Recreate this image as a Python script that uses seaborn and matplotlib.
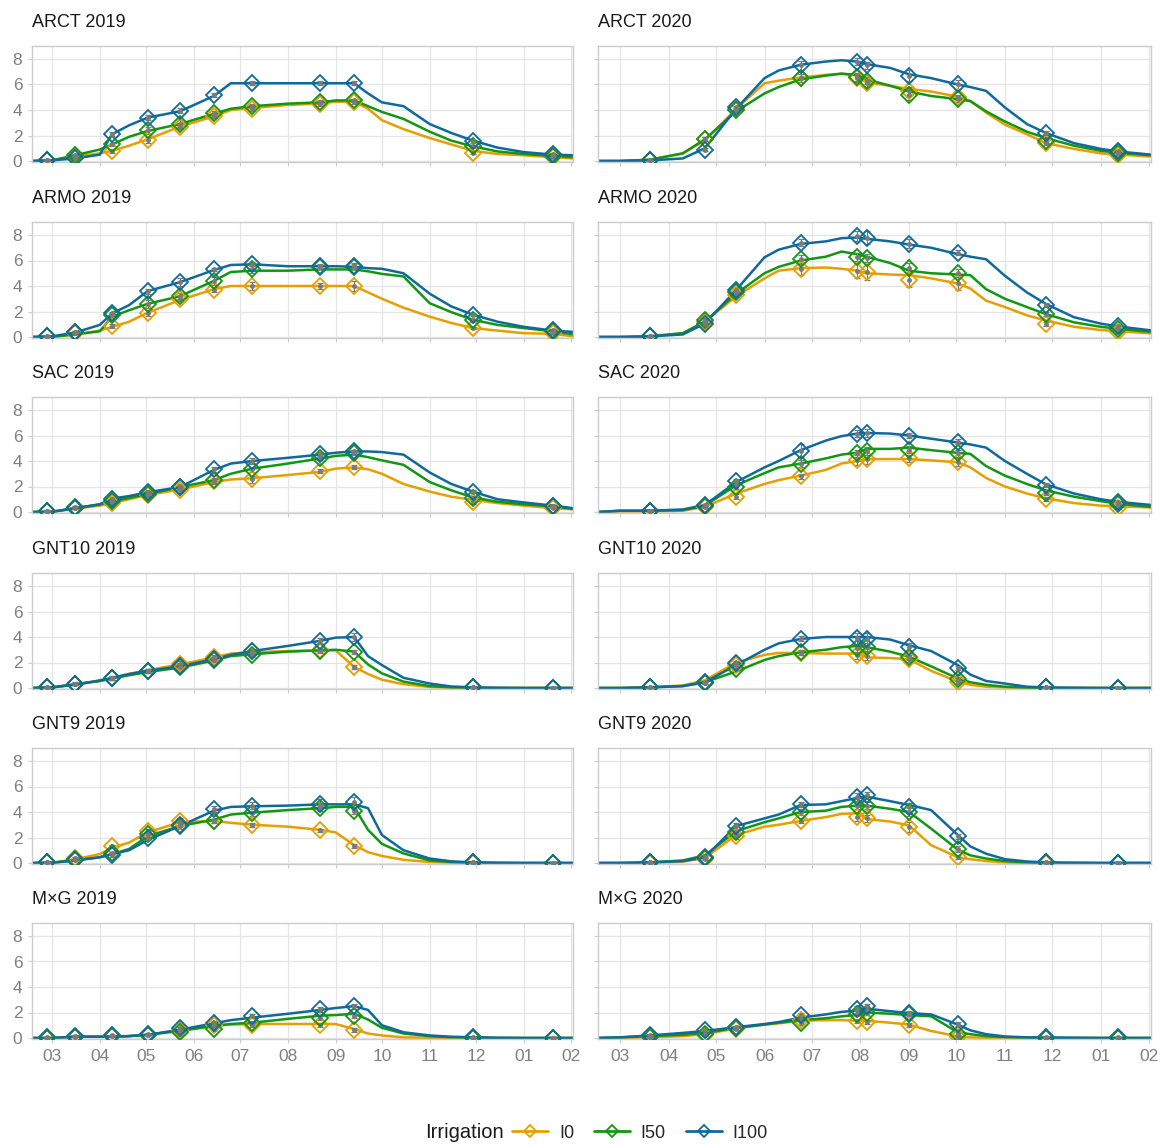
import pandas as pd
import matplotlib
matplotlib.use('Agg')
import matplotlib.pyplot as plt
import matplotlib.dates as mdates
from matplotlib.lines import Line2D
import seaborn as sns

# ---- facets, treatments ----
SITES = ['ARCT', 'ARMO', 'SAC', 'GNT10', 'GNT9', 'M×G']
YEARS = [2019, 2020]
TREATMENTS = ['I0', 'I50', 'I100']
COLORS = {'I0': '#E69F00', 'I50': '#139613', 'I100': '#0F6A9B'}

# ---- dates of the simulated curves ----
LINE_DATES_2019 = ['2019-02-16', '2019-03-01', '2019-03-16', '2019-04-01', '2019-04-09',
                   '2019-04-20', '2019-05-02', '2019-05-23', '2019-06-14', '2019-06-25',
                   '2019-07-09', '2019-08-01', '2019-08-22', '2019-09-01', '2019-09-13',
                   '2019-09-22', '2019-10-01', '2019-10-15', '2019-11-01', '2019-11-15',
                   '2019-11-29', '2019-12-15', '2020-01-01', '2020-01-20', '2020-02-02']
LINE_DATES_2020 = ['2020-02-16', '2020-03-01', '2020-03-20', '2020-04-10', '2020-04-24',
                   '2020-05-14', '2020-06-01', '2020-06-10', '2020-06-24', '2020-07-10',
                   '2020-07-20', '2020-07-30', '2020-08-05', '2020-08-20', '2020-09-01',
                   '2020-09-15', '2020-10-02', '2020-10-10', '2020-10-20', '2020-11-01',
                   '2020-11-15', '2020-11-27', '2020-12-15', '2021-01-01', '2021-01-12',
                   '2021-02-02']

# ---- dates of the field observations ----
OBS_DATES_2019 = ['2019-02-26', '2019-03-16', '2019-04-09', '2019-05-02', '2019-05-23',
                  '2019-06-14', '2019-07-09', '2019-08-22', '2019-09-13', '2019-11-29',
                  '2020-01-20']
OBS_DATES_2020 = ['2020-03-20', '2020-04-24', '2020-05-14', '2020-06-24', '2020-07-30',
                  '2020-08-05', '2020-09-01', '2020-10-02', '2020-11-27', '2021-01-12']

# ---- simulated curves ----
ARCT_2019_I0 = [0, 0.05, 0.35, 0.6, 0.8, 1.2, 1.7, 2.7, 3.5, 4.0, 4.15, 4.4, 4.5, 4.65, 4.65, 4.1, 3.2, 2.5, 1.8, 1.3, 0.8, 0.55, 0.45, 0.3, 0.2]
ARCT_2019_I50 = [0, 0.05, 0.45, 0.9, 1.3, 1.9, 2.35, 2.9, 3.7, 4.1, 4.3, 4.5, 4.6, 4.75, 4.75, 4.3, 3.85, 3.3, 2.3, 1.6, 1.15, 0.75, 0.55, 0.4, 0.3]
ARCT_2019_I100 = [0, 0.05, 0.2, 0.5, 2.1, 2.8, 3.4, 3.9, 5.1, 6.1, 6.1, 6.1, 6.1, 6.1, 6.1, 5.3, 4.6, 4.3, 2.9, 2.2, 1.6, 1.05, 0.7, 0.5, 0.45]
ARMO_2019_I0 = [0, 0.02, 0.2, 0.5, 0.8, 1.2, 1.9, 2.9, 3.75, 4.0, 4.0, 4.0, 4.0, 4.0, 4.0, 3.5, 3.0, 2.3, 1.6, 1.1, 0.7, 0.5, 0.3, 0.25, 0.05]
ARMO_2019_I50 = [0, 0.02, 0.2, 0.45, 1.6, 2.1, 2.6, 3.2, 4.4, 5.1, 5.2, 5.2, 5.3, 5.3, 5.3, 5.15, 4.95, 4.75, 2.65, 1.95, 1.35, 0.95, 0.7, 0.45, 0.2]
ARMO_2019_I100 = [0, 0.05, 0.35, 0.95, 1.85, 2.5, 3.6, 4.3, 5.25, 5.65, 5.7, 5.55, 5.55, 5.55, 5.5, 5.4, 5.35, 5.0, 3.4, 2.4, 1.75, 1.2, 0.8, 0.5, 0.4]
SAC_2019_I0 = [0, 0.02, 0.25, 0.5, 0.7, 1.0, 1.35, 1.75, 2.35, 2.55, 2.65, 2.9, 3.15, 3.4, 3.5, 3.35, 3.0, 2.2, 1.6, 1.2, 0.95, 0.7, 0.5, 0.3, 0.2]
SAC_2019_I50 = [0, 0.02, 0.3, 0.6, 0.85, 1.1, 1.4, 1.95, 2.5, 3.0, 3.4, 3.8, 4.2, 4.4, 4.5, 4.3, 4.05, 3.7, 2.35, 1.7, 1.15, 0.8, 0.6, 0.45, 0.25]
SAC_2019_I100 = [0, 0.02, 0.3, 0.6, 1.05, 1.25, 1.55, 1.95, 3.3, 3.8, 4.0, 4.25, 4.5, 4.65, 4.75, 4.75, 4.7, 4.5, 3.1, 2.2, 1.6, 1.0, 0.75, 0.5, 0.3]
GNT10_2019_I0 = [0, 0.05, 0.3, 0.55, 0.75, 1.1, 1.4, 1.85, 2.4, 2.7, 2.8, 2.9, 2.95, 2.95, 1.65, 1.1, 0.65, 0.3, 0.08, 0.03, 0.01, 0, 0, 0, 0]
GNT10_2019_I50 = [0, 0.05, 0.3, 0.55, 0.75, 1.0, 1.25, 1.6, 2.15, 2.5, 2.65, 2.85, 2.95, 3.0, 2.85, 1.85, 1.15, 0.5, 0.15, 0.05, 0.02, 0, 0, 0, 0]
GNT10_2019_I100 = [0, 0.05, 0.25, 0.6, 0.8, 1.1, 1.35, 1.7, 2.25, 2.6, 2.9, 3.3, 3.7, 3.95, 4.0, 2.5, 1.8, 0.8, 0.35, 0.12, 0.05, 0.02, 0, 0, 0]
GNT9_2019_I0 = [0, 0.02, 0.3, 0.7, 1.2, 1.6, 2.4, 3.2, 3.3, 3.15, 3.0, 2.85, 2.6, 2.4, 1.4, 0.85, 0.55, 0.25, 0.08, 0.03, 0.01, 0, 0, 0, 0]
GNT9_2019_I50 = [0, 0.02, 0.2, 0.45, 0.7, 1.1, 2.1, 2.9, 3.4, 3.8, 3.95, 4.15, 4.3, 4.4, 4.4, 2.6, 1.5, 0.75, 0.2, 0.08, 0.03, 0, 0, 0, 0]
GNT9_2019_I100 = [0, 0.02, 0.2, 0.45, 0.7, 1.0, 1.8, 2.9, 4.1, 4.4, 4.45, 4.5, 4.6, 4.6, 4.6, 4.3, 2.2, 1.0, 0.35, 0.13, 0.05, 0.02, 0, 0, 0]
MXG_2019_I0 = [0, 0, 0.1, 0.1, 0.1, 0.15, 0.25, 0.6, 0.95, 1.05, 1.1, 1.1, 1.1, 1.1, 0.7, 0.35, 0.2, 0.05, 0.02, 0, 0, 0, 0, 0, 0]
MXG_2019_I50 = [0, 0, 0.1, 0.1, 0.1, 0.15, 0.25, 0.55, 0.95, 1.1, 1.2, 1.5, 1.75, 1.8, 1.9, 1.45, 0.8, 0.35, 0.15, 0.05, 0.03, 0, 0, 0, 0]
MXG_2019_I100 = [0, 0, 0.1, 0.1, 0.1, 0.15, 0.25, 0.65, 1.15, 1.4, 1.6, 1.9, 2.2, 2.35, 2.5, 2.2, 1.0, 0.45, 0.2, 0.1, 0.06, 0.02, 0, 0, 0]

ARCT_2020_I0 = [0, 0, 0.1, 0.6, 1.6, 4.1, 6.1, 6.3, 6.55, 6.75, 6.85, 6.7, 6.15, 5.9, 5.65, 5.45, 5.05, 4.7, 3.8, 2.85, 2.1, 1.4, 0.95, 0.6, 0.5, 0.35]
ARCT_2020_I50 = [0, 0, 0.1, 0.6, 1.7, 3.9, 5.3, 5.8, 6.4, 6.7, 6.85, 6.75, 6.4, 5.9, 5.45, 5.1, 4.85, 4.7, 3.9, 3.1, 2.3, 1.8, 1.2, 0.8, 0.65, 0.45]
ARCT_2020_I100 = [0, 0, 0.05, 0.2, 1.0, 4.1, 6.5, 7.1, 7.55, 7.8, 7.9, 7.8, 7.6, 7.3, 6.8, 6.5, 6.0, 5.8, 5.5, 4.2, 2.9, 2.2, 1.4, 0.95, 0.75, 0.5]
ARMO_2020_I0 = [0, 0, 0.05, 0.3, 1.2, 3.2, 4.6, 5.2, 5.4, 5.45, 5.35, 5.2, 5.0, 4.9, 4.85, 4.6, 4.2, 3.8, 2.85, 2.35, 1.7, 1.3, 0.8, 0.55, 0.45, 0.28]
ARMO_2020_I50 = [0, 0, 0.05, 0.3, 1.2, 3.4, 5.0, 5.5, 6.0, 6.3, 6.7, 6.5, 6.3, 5.8, 5.2, 5.0, 4.9, 4.85, 3.75, 3.0, 2.35, 1.8, 1.15, 0.8, 0.65, 0.4]
ARMO_2020_I100 = [0, 0, 0.05, 0.2, 1.05, 3.7, 6.25, 6.85, 7.3, 7.5, 7.75, 7.8, 7.7, 7.5, 7.25, 7.0, 6.5, 6.3, 6.1, 4.8, 3.5, 2.6, 1.55, 1.05, 0.83, 0.52]
SAC_2020_I0 = [0, 0.05, 0.05, 0.1, 0.4, 1.45, 2.2, 2.5, 2.85, 3.3, 3.8, 4.0, 4.15, 4.15, 4.15, 4.05, 3.9, 3.5, 2.67, 2.0, 1.45, 1.07, 0.7, 0.5, 0.45, 0.35]
SAC_2020_I50 = [0, 0.1, 0.1, 0.15, 0.5, 2.1, 3.05, 3.5, 3.8, 4.2, 4.5, 4.65, 4.95, 4.95, 5.05, 4.85, 4.64, 4.56, 3.6, 2.85, 2.2, 1.7, 1.2, 0.85, 0.65, 0.4]
SAC_2020_I100 = [0, 0.1, 0.1, 0.2, 0.55, 2.35, 3.5, 4.0, 4.85, 5.6, 5.95, 6.15, 6.2, 6.15, 6.0, 5.75, 5.45, 5.3, 5.05, 4.0, 3.0, 2.17, 1.45, 1.0, 0.8, 0.55]
GNT10_2020_I0 = [0, 0, 0.05, 0.2, 0.6, 2.0, 2.6, 2.75, 2.75, 2.7, 2.7, 2.7, 2.4, 2.35, 2.25, 1.35, 0.5, 0.25, 0.1, 0.04, 0, 0, 0, 0, 0, 0]
GNT10_2020_I50 = [0, 0, 0.05, 0.15, 0.45, 1.3, 2.2, 2.5, 2.8, 3.0, 3.2, 3.3, 3.2, 2.85, 2.45, 1.7, 0.75, 0.45, 0.25, 0.1, 0.03, 0, 0, 0, 0, 0]
GNT10_2020_I100 = [0, 0, 0.05, 0.15, 0.45, 1.8, 3.0, 3.5, 3.85, 4.0, 4.0, 4.0, 4.0, 3.8, 3.35, 2.9, 1.8, 1.05, 0.55, 0.35, 0.1, 0.05, 0.02, 0, 0, 0]
GNT9_2020_I0 = [0, 0, 0.02, 0.1, 0.4, 2.2, 2.85, 3.0, 3.3, 3.6, 3.85, 3.9, 3.45, 3.25, 2.95, 1.4, 0.45, 0.3, 0.15, 0.05, 0, 0, 0, 0, 0, 0]
GNT9_2020_I50 = [0, 0, 0.05, 0.2, 0.6, 2.5, 3.2, 3.5, 4.0, 4.1, 4.4, 4.5, 4.5, 4.25, 4.0, 2.7, 1.05, 0.6, 0.35, 0.15, 0.05, 0, 0, 0, 0, 0]
GNT9_2020_I100 = [0, 0, 0.05, 0.15, 0.45, 2.9, 3.5, 3.8, 4.55, 4.6, 4.85, 5.1, 5.2, 4.85, 4.55, 4.15, 2.2, 1.3, 0.73, 0.3, 0.12, 0.05, 0.02, 0, 0, 0]
MXG_2020_I0 = [0, 0.02, 0.05, 0.15, 0.3, 0.75, 1.05, 1.15, 1.35, 1.4, 1.4, 1.35, 1.35, 1.2, 1.05, 0.55, 0.13, 0.05, 0.02, 0, 0, 0, 0, 0, 0, 0]
MXG_2020_I50 = [0, 0.05, 0.15, 0.25, 0.4, 0.8, 1.05, 1.2, 1.4, 1.55, 1.7, 1.8, 2.0, 1.9, 1.8, 1.7, 0.45, 0.3, 0.15, 0.07, 0.03, 0, 0, 0, 0, 0]
MXG_2020_I100 = [0, 0.05, 0.2, 0.4, 0.55, 0.85, 1.1, 1.25, 1.6, 1.85, 2.05, 2.15, 2.3, 2.1, 1.95, 1.85, 1.05, 0.6, 0.3, 0.12, 0.05, 0.04, 0.02, 0, 0, 0]

# ---- observed means ----
ARCT_2019_OBS_I0 = [0.05, 0.3, 0.8, 1.65, 2.7, 3.55, 4.1, 4.45, 4.65, 0.65, 0.3]
ARCT_2019_OBS_I50 = [0.05, 0.45, 1.3, 2.4, 2.9, 3.75, 4.3, 4.6, 4.75, 1.15, 0.4]
ARCT_2019_OBS_I100 = [0.1, 0.2, 2.15, 3.4, 3.95, 5.2, 6.1, 6.1, 6.1, 1.55, 0.55]
ARMO_2019_OBS_I0 = [0.05, 0.3, 0.85, 1.9, 3.0, 3.7, 4.0, 4.0, 4.0, 0.7, 0.3]
ARMO_2019_OBS_I50 = [0.05, 0.4, 1.7, 2.6, 3.2, 4.4, 5.3, 5.5, 5.5, 1.3, 0.45]
ARMO_2019_OBS_I100 = [0.05, 0.4, 1.85, 3.6, 4.3, 5.3, 5.7, 5.6, 5.6, 1.75, 0.55]
SAC_2019_OBS_I0 = [0.05, 0.3, 0.7, 1.35, 1.7, 2.4, 2.55, 3.2, 3.55, 0.75, 0.35]
SAC_2019_OBS_I50 = [0.05, 0.4, 0.85, 1.4, 2.0, 2.5, 3.35, 4.2, 4.6, 1.1, 0.45]
SAC_2019_OBS_I100 = [0.1, 0.35, 1.05, 1.6, 1.95, 3.35, 4.0, 4.55, 4.75, 1.6, 0.5]
GNT10_2019_OBS_I0 = [0.05, 0.3, 0.75, 1.35, 1.9, 2.4, 2.9, 2.95, 1.65, 0.05, 0.02]
GNT10_2019_OBS_I50 = [0.05, 0.35, 0.8, 1.3, 1.65, 2.2, 2.6, 2.9, 2.8, 0.05, 0.02]
GNT10_2019_OBS_I100 = [0.05, 0.3, 0.8, 1.35, 1.75, 2.3, 2.9, 3.7, 4.0, 0.05, 0.02]
GNT9_2019_OBS_I0 = [0.05, 0.4, 1.3, 2.5, 3.3, 3.3, 3.0, 2.55, 1.35, 0.02, 0.02]
GNT9_2019_OBS_I50 = [0.05, 0.35, 0.75, 2.3, 2.9, 3.3, 3.9, 4.3, 4.05, 0.05, 0.02]
GNT9_2019_OBS_I100 = [0.05, 0.25, 0.65, 2.0, 3.0, 4.25, 4.5, 4.6, 4.75, 0.05, 0.02]
MXG_2019_OBS_I0 = [0.0, 0.1, 0.15, 0.2, 0.6, 1.0, 1.0, 1.0, 0.6, 0.02, 0.0]
MXG_2019_OBS_I50 = [0.0, 0.1, 0.15, 0.25, 0.5, 0.7, 1.2, 1.6, 1.7, 0.02, 0.0]
MXG_2019_OBS_I100 = [0.05, 0.15, 0.2, 0.3, 0.75, 1.2, 1.7, 2.25, 2.5, 0.05, 0.0]

ARCT_2020_OBS_I0 = [0.05, 1.7, 4.1, 6.5, 6.5, 6.1, 5.5, 5.0, 1.4, 0.5]
ARCT_2020_OBS_I50 = [0.05, 1.7, 4.0, 6.5, 6.6, 6.3, 5.2, 4.85, 1.6, 0.6]
ARCT_2020_OBS_I100 = [0.05, 0.9, 4.2, 7.5, 7.8, 7.5, 6.7, 6.0, 2.2, 0.75]
ARMO_2020_OBS_I0 = [0.05, 1.2, 3.3, 5.3, 5.2, 5.1, 4.5, 4.2, 1.05, 0.4]
ARMO_2020_OBS_I50 = [0.05, 1.3, 3.5, 6.1, 6.3, 6.2, 5.4, 5.0, 1.8, 0.6]
ARMO_2020_OBS_I100 = [0.05, 1.0, 3.7, 7.4, 7.9, 7.8, 7.3, 6.6, 2.5, 0.85]
SAC_2020_OBS_I0 = [0.05, 0.4, 1.2, 2.8, 4.1, 4.15, 4.2, 3.9, 1.0, 0.35]
SAC_2020_OBS_I50 = [0.05, 0.5, 2.0, 3.8, 4.6, 4.8, 4.9, 4.6, 1.5, 0.6]
SAC_2020_OBS_I100 = [0.1, 0.55, 2.4, 4.8, 6.15, 6.2, 6.0, 5.5, 2.1, 0.8]
GNT10_2020_OBS_I0 = [0.05, 0.4, 1.8, 2.75, 2.55, 2.5, 2.25, 0.5, 0.05, 0.02]
GNT10_2020_OBS_I50 = [0.05, 0.4, 1.5, 2.8, 3.1, 3.2, 2.4, 0.7, 0.05, 0.02]
GNT10_2020_OBS_I100 = [0.05, 0.45, 1.95, 3.85, 3.9, 3.85, 3.25, 1.6, 0.05, 0.02]
GNT9_2020_OBS_I0 = [0.02, 0.3, 2.1, 3.3, 3.6, 3.5, 2.8, 0.5, 0.02, 0.02]
GNT9_2020_OBS_I50 = [0.05, 0.5, 2.4, 4.0, 4.5, 4.5, 4.0, 1.1, 0.05, 0.02]
GNT9_2020_OBS_I100 = [0.05, 0.4, 2.9, 4.6, 5.2, 5.3, 4.4, 2.1, 0.05, 0.02]
MXG_2020_OBS_I0 = [0.05, 0.2, 0.7, 1.4, 1.3, 1.25, 1.0, 0.1, 0.0, 0.0]
MXG_2020_OBS_I50 = [0.05, 0.3, 0.75, 1.2, 1.9, 2.0, 1.85, 0.35, 0.02, 0.0]
MXG_2020_OBS_I100 = [0.2, 0.6, 0.85, 1.8, 2.3, 2.5, 1.95, 1.1, 0.1, 0.05]

# ---- standard errors of the observations ----
ARCT_2019_SE_I0 = [0.02, 0.1, 0.15, 0.2, 0.2, 0.15, 0.15, 0.15, 0.15, 0.1, 0.05]
ARCT_2019_SE_I50 = [0.02, 0.1, 0.15, 0.3, 0.3, 0.15, 0.15, 0.15, 0.15, 0.1, 0.05]
ARCT_2019_SE_I100 = [0.02, 0.1, 0.15, 0.2, 0.2, 0.15, 0.15, 0.15, 0.15, 0.1, 0.05]
ARMO_2019_SE_I0 = [0.02, 0.1, 0.15, 0.25, 0.2, 0.2, 0.3, 0.25, 0.4, 0.1, 0.05]
ARMO_2019_SE_I50 = [0.02, 0.1, 0.2, 0.3, 0.25, 0.3, 0.3, 0.15, 0.2, 0.1, 0.05]
ARMO_2019_SE_I100 = [0.02, 0.1, 0.15, 0.2, 0.3, 0.15, 0.15, 0.15, 0.2, 0.1, 0.05]
SAC_2019_SE_I0 = [0.02, 0.1, 0.15, 0.15, 0.2, 0.2, 0.25, 0.15, 0.15, 0.1, 0.05]
SAC_2019_SE_I50 = [0.02, 0.1, 0.15, 0.15, 0.2, 0.2, 0.2, 0.15, 0.15, 0.1, 0.05]
SAC_2019_SE_I100 = [0.02, 0.1, 0.15, 0.15, 0.2, 0.2, 0.2, 0.15, 0.15, 0.1, 0.05]
GNT10_2019_SE_I0 = [0.02, 0.1, 0.15, 0.15, 0.25, 0.15, 0.15, 0.15, 0.15, 0.02, 0.02]
GNT10_2019_SE_I50 = [0.02, 0.1, 0.15, 0.15, 0.2, 0.15, 0.15, 0.15, 0.15, 0.02, 0.02]
GNT10_2019_SE_I100 = [0.02, 0.1, 0.15, 0.15, 0.2, 0.15, 0.15, 0.2, 0.35, 0.02, 0.02]
GNT9_2019_SE_I0 = [0.02, 0.1, 0.15, 0.15, 0.2, 0.15, 0.15, 0.15, 0.15, 0.02, 0.02]
GNT9_2019_SE_I50 = [0.02, 0.1, 0.15, 0.15, 0.2, 0.15, 0.2, 0.2, 0.2, 0.02, 0.02]
GNT9_2019_SE_I100 = [0.02, 0.1, 0.15, 0.2, 0.2, 0.25, 0.3, 0.4, 0.4, 0.02, 0.02]
MXG_2019_SE_I0 = [0.02, 0.05, 0.05, 0.05, 0.1, 0.15, 0.15, 0.15, 0.15, 0.02, 0.02]
MXG_2019_SE_I50 = [0.02, 0.05, 0.05, 0.05, 0.1, 0.15, 0.15, 0.2, 0.15, 0.02, 0.02]
MXG_2019_SE_I100 = [0.02, 0.05, 0.05, 0.05, 0.1, 0.15, 0.15, 0.2, 0.2, 0.02, 0.02]

ARCT_2020_SE_I0 = [0.02, 0.15, 0.15, 0.3, 0.3, 0.3, 0.3, 0.2, 0.15, 0.1]
ARCT_2020_SE_I50 = [0.02, 0.15, 0.15, 0.3, 0.3, 0.3, 0.4, 0.2, 0.15, 0.1]
ARCT_2020_SE_I100 = [0.02, 0.15, 0.15, 0.35, 0.3, 0.3, 0.45, 0.35, 0.15, 0.1]
ARMO_2020_SE_I0 = [0.02, 0.15, 0.2, 0.4, 0.6, 0.6, 0.6, 0.5, 0.15, 0.1]
ARMO_2020_SE_I50 = [0.02, 0.2, 0.2, 0.3, 0.3, 0.3, 0.4, 0.3, 0.15, 0.1]
ARMO_2020_SE_I100 = [0.02, 0.15, 0.15, 0.3, 0.4, 0.5, 0.35, 0.2, 0.15, 0.1]
SAC_2020_SE_I0 = [0.02, 0.1, 0.2, 0.2, 0.4, 0.35, 0.3, 0.3, 0.15, 0.1]
SAC_2020_SE_I50 = [0.02, 0.1, 0.2, 0.3, 0.3, 0.3, 0.3, 0.3, 0.15, 0.1]
SAC_2020_SE_I100 = [0.02, 0.1, 0.2, 0.5, 0.3, 0.3, 0.2, 0.2, 0.15, 0.1]
GNT10_2020_SE_I0 = [0.02, 0.1, 0.2, 0.2, 0.3, 0.3, 0.2, 0.15, 0.02, 0.02]
GNT10_2020_SE_I50 = [0.02, 0.1, 0.2, 0.2, 0.3, 0.3, 0.2, 0.15, 0.02, 0.02]
GNT10_2020_SE_I100 = [0.02, 0.1, 0.2, 0.2, 0.45, 0.45, 0.3, 0.15, 0.02, 0.02]
GNT9_2020_SE_I0 = [0.02, 0.1, 0.2, 0.2, 0.3, 0.3, 0.4, 0.15, 0.02, 0.02]
GNT9_2020_SE_I50 = [0.02, 0.1, 0.2, 0.2, 0.3, 0.3, 0.3, 0.2, 0.02, 0.02]
GNT9_2020_SE_I100 = [0.02, 0.1, 0.2, 0.2, 0.3, 0.3, 0.3, 0.2, 0.02, 0.02]
MXG_2020_SE_I0 = [0.02, 0.05, 0.1, 0.15, 0.15, 0.15, 0.15, 0.05, 0.02, 0.02]
MXG_2020_SE_I50 = [0.02, 0.05, 0.1, 0.15, 0.2, 0.2, 0.15, 0.1, 0.02, 0.02]
MXG_2020_SE_I100 = [0.02, 0.05, 0.1, 0.15, 0.2, 0.2, 0.15, 0.15, 0.02, 0.02]

# ---- tidy tables for seaborn ----
KEYS = {'ARCT': 'ARCT', 'ARMO': 'ARMO', 'SAC': 'SAC', 'GNT10': 'GNT10', 'GNT9': 'GNT9', 'M×G': 'MXG'}
LINE_DATES = {2019: LINE_DATES_2019, 2020: LINE_DATES_2020}
OBS_DATES = {2019: OBS_DATES_2019, 2020: OBS_DATES_2020}

line_rows, obs_rows = [], []
for site in SITES:
    for year in YEARS:
        for t in TREATMENTS:
            stem = f'{KEYS[site]}_{year}'
            vals = globals()[f'{stem}_{t}']
            for d, v in zip(LINE_DATES[year], vals):
                line_rows.append((site, year, t, pd.Timestamp(d), v))
            means = globals()[f'{stem}_OBS_{t}']
            ses = globals()[f'{stem}_SE_{t}']
            for d, m, s in zip(OBS_DATES[year], means, ses):
                obs_rows.append((site, year, t, pd.Timestamp(d), m, s))
lines = pd.DataFrame(line_rows, columns=['site', 'year', 'irr', 'date', 'value'])
obs = pd.DataFrame(obs_rows, columns=['site', 'year', 'irr', 'date', 'mean', 'se'])

# ---- plotting ----
sns.set_theme(style='white')
plt.rcParams['font.family'] = ['Liberation Sans', 'DejaVu Sans']

W, H = 1166, 1144
fig = plt.figure(figsize=(W / 100, H / 100), dpi=100)

col_px = [(32, 573), (598, 1151)]
zero_px = [161, 337, 512, 688, 863, 1038]
YMIN, YMAX, PX_PER_UNIT = -0.1, 9.05, 12.75

for r, site in enumerate(SITES):
    for c, year in enumerate(YEARS):
        x0, x1 = col_px[c]
        top = zero_px[r] - YMAX * PX_PER_UNIT
        bot = zero_px[r] - YMIN * PX_PER_UNIT
        ax = fig.add_axes([x0 / W, 1 - bot / H, (x1 - x0) / W, (bot - top) / H])
        ax.set_axisbelow(True)

        sub = lines[(lines.site == site) & (lines.year == year)]
        sns.lineplot(data=sub, x='date', y='value', hue='irr', hue_order=TREATMENTS,
                     palette=COLORS, estimator=None, linewidth=1.8, legend=False,
                     ax=ax, zorder=2)

        osub = obs[(obs.site == site) & (obs.year == year)]
        for t in TREATMENTS:
            o = osub[osub.irr == t]
            ax.errorbar(o['date'], o['mean'], yerr=o['se'], fmt='none', ecolor='#7a7a7a',
                        elinewidth=0.9, capsize=2.5, capthick=0.9, zorder=3)
            ax.plot(o['date'], o['mean'], 'D', mfc='none', mec=COLORS[t], mew=1.3,
                    ms=8, zorder=4)
            ax.plot(o['date'], o['mean'], 'o', color='#7a7a7a', ms=2.5, zorder=4)

        ax.set_xlim(pd.Timestamp(f'{year}-02-16'), pd.Timestamp(f'{year + 1}-02-02'))
        ax.set_ylim(YMIN, YMAX)
        ax.set_yticks([0, 2, 4, 6, 8])
        ax.xaxis.set_major_locator(mdates.MonthLocator())
        ax.xaxis.set_major_formatter(mdates.DateFormatter('%m'))
        ax.grid(True, color='#E5E5E5', linewidth=0.9)
        for s in ax.spines.values():
            s.set_color('#CCCCCC')
            s.set_linewidth(1.0)
        ax.tick_params(axis='both', length=3, width=0.8, color='#CCCCCC',
                       labelsize=12.5, labelcolor='#808080', pad=4)
        ax.tick_params(left=True, bottom=True)
        if c == 1:
            ax.tick_params(labelleft=False)
        if r < len(SITES) - 1:
            ax.tick_params(labelbottom=False)
        ax.set_xlabel('')
        ax.set_ylabel('')
        ax.text(0, 1 + 23.5 / (bot - top), f'{site} {year}', transform=ax.transAxes,
                ha='left', va='center', fontsize=13, color='#1a1a1a')

# legend at the bottom
handles = [Line2D([0], [0], color=COLORS[t], lw=2, marker='D', mfc='none', mec=COLORS[t],
                  ms=6, mew=1.3) for t in TREATMENTS]
ly = 1 - 1133 / H
fig.text(425 / W, ly, 'Irrigation', fontsize=14.5, ha='left', va='center', color='#1a1a1a')
fig.legend(handles, TREATMENTS, loc='center left', bbox_to_anchor=(512 / W, ly), ncol=3,
           frameon=False, fontsize=13, handlelength=2.0, handletextpad=0.6,
           columnspacing=1.1, borderpad=0, borderaxespad=0)

fig.savefig('out.png', dpi=100)
